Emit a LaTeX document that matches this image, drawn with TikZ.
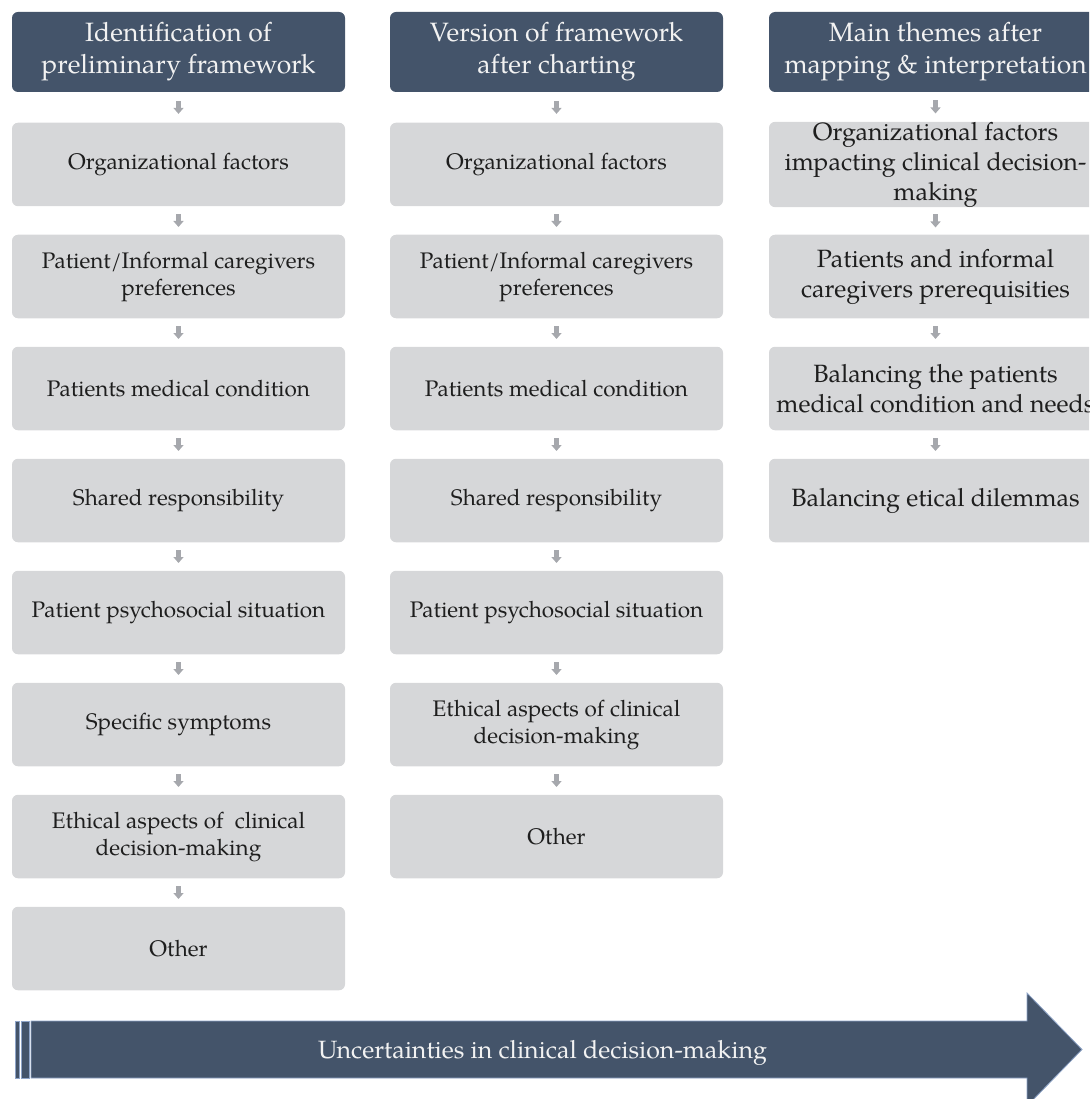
\documentclass[tikz,border=0pt]{standalone}
\usepackage{fontspec}
\setmainfont{TeX Gyre Pagella}
\usetikzlibrary{arrows.meta,calc}
\definecolor{hdr}{HTML}{44546A}
\definecolor{boxg}{HTML}{D6D7D9}
\definecolor{arrg}{HTML}{A6A8AD}
\definecolor{edgeblue}{HTML}{8EA4C8}
\definecolor{txt}{HTML}{1E1E1E}
\newcommand\flowarrow[2]{\draw[flowline] ($(#1.south)!0.5!(#2.north)+(0,-6.5)$) -- ($(#1.south)!0.5!(#2.north)+(0,6.5)$);}
\begin{document}
\begin{tikzpicture}[x=1pt,y=-1pt,
  hdrbox/.style={rectangle, rounded corners=6pt, fill=hdr, minimum width=333pt, minimum height=80pt, inner sep=0pt, align=center, text=white!95!black, font=\fontsize{26.5}{32}\selectfont},
  itembox/.style={rectangle, rounded corners=6pt, fill=boxg, minimum width=333pt, minimum height=83.5pt, inner sep=0pt, align=center, text=txt, font=\fontsize{22.5}{27}\selectfont},
  bigitem/.style={itembox, font=\fontsize{25}{30}\selectfont},
  flowline/.style={arrg, line width=5.5pt, -{Triangle[width=10pt,length=6pt]}}
]
\useasboundingbox (0,0) rectangle (1089,1099);
\clip (0,0) rectangle (1089,1099);
% column 1
\node[hdrbox] (h1) at (178.5,52) {Identification of\\preliminary framework};
\node[itembox] (a1) at (178.5,164.5) {Organizational factors};
\node[itembox] (a2) at (178.5,276.5) {Patient/Informal caregivers\\preferences};
\node[itembox] (a3) at (178.5,388.5) {Patients medical condition};
\node[itembox] (a4) at (178.5,500.5) {Shared responsibility};
\node[itembox] (a5) at (178.5,612.5) {Patient psychosocial situation};
\node[itembox] (a6) at (178.5,724.5) {Specific symptoms};
\node[itembox] (a7) at (178.5,836.5) {Ethical aspects of \ clinical\\decision-making};
\node[itembox] (a8) at (178.5,948.5) {Other};
% column 2
\node[hdrbox] (h2) at (556.5,52) {Version of framework\\after charting};
\node[itembox] (b1) at (556.5,164.5) {Organizational factors};
\node[itembox] (b2) at (556.5,276.5) {Patient/Informal caregivers\\preferences};
\node[itembox] (b3) at (556.5,388.5) {Patients medical condition};
\node[itembox] (b4) at (556.5,500.5) {Shared responsibility};
\node[itembox] (b5) at (556.5,612.5) {Patient psychosocial situation};
\node[itembox] (b6) at (556.5,724.5) {Ethical aspects of clinical\\decision-making};
\node[itembox] (b7) at (556.5,836.5) {Other};
% column 3
\node[hdrbox] (h3) at (935.5,52) {Main themes after\\mapping \& interpretation};
\node[bigitem] (c1) at (935.5,164.5) {Organizational factors\\impacting clinical decision-\\making};
\node[bigitem] (c2) at (935.5,276.5) {Patients and informal\\caregivers prerequisities};
\node[bigitem] (c3) at (935.5,388.5) {Balancing the patients\\medical condition and needs};
\node[bigitem] (c4) at (935.5,500.5) {Balancing etical dilemmas};
% flow arrows
\flowarrow{h1}{a1}\flowarrow{a1}{a2}\flowarrow{a2}{a3}\flowarrow{a3}{a4}
\flowarrow{a4}{a5}\flowarrow{a5}{a6}\flowarrow{a6}{a7}\flowarrow{a7}{a8}
\flowarrow{h2}{b1}\flowarrow{b1}{b2}\flowarrow{b2}{b3}\flowarrow{b3}{b4}
\flowarrow{b4}{b5}\flowarrow{b5}{b6}\flowarrow{b6}{b7}
\flowarrow{h3}{c1}\flowarrow{c1}{c2}\flowarrow{c2}{c3}\flowarrow{c3}{c4}
% bottom arrow
\filldraw[fill=hdr, draw=edgeblue, line width=0.8pt] (31,1021) -- (1027,1021) -- (1027,993) -- (1082,1049.5) -- (1027,1106) -- (1027,1078) -- (31,1078) -- cycle;
\filldraw[fill=hdr, draw=edgeblue, line width=0.8pt] (15,1021) rectangle (19,1078);
\filldraw[fill=hdr, draw=edgeblue, line width=0.8pt] (21,1021) rectangle (29,1078);
\node[text=white!95!black, font=\fontsize{25}{30}\selectfont, inner sep=0pt] (u) at (542.5,1053) {Uncertainties in clinical decision-making};
\end{tikzpicture}
\end{document}
